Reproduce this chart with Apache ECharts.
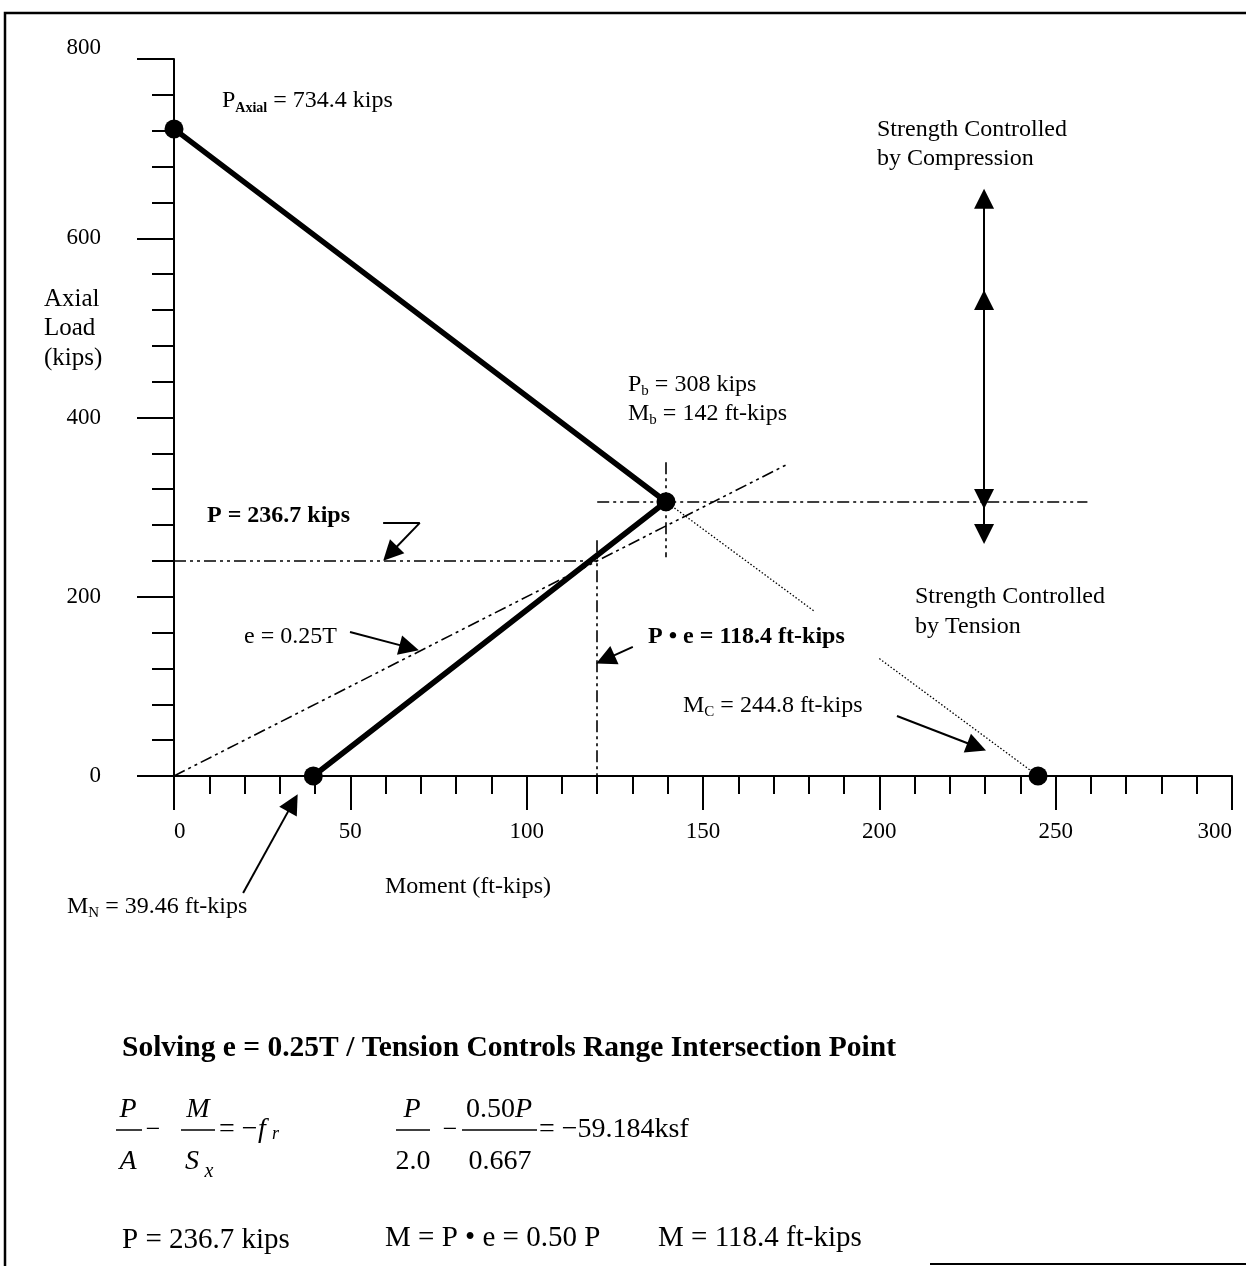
<!DOCTYPE html>
<html>
<head>
<meta charset="utf-8">
<script src="https://cdn.jsdelivr.net/npm/echarts@6.0.0/dist/echarts.min.js"></script>
<style>
html,body{margin:0;padding:0;background:#fff;}
#chart{width:1246px;height:1266px;}
</style>
</head>
<body>
<div id="chart"></div>
<script>
// ---- axis definitions ----
const xRange = [0, 300];
const xStep = 50;
const yRange = [0, 800];
const yStep = 200;

// ---- interaction curve (Moment, Axial load) ----
const curveM = [0, 139.5, 39.5];
const curveP = [722, 306, 0];

// ---- key points (dots) ----
const dotM = [0, 139.5, 39.5, 245];
const dotP = [722, 306, 0, 0];

// ---- dotted tension-controlled line segments ----
const dotFromM = [139.5, 200];
const dotFromP = [306, 131];
const dotToM = [181.5, 245];
const dotToP = [184, 0];

// ---- dash-dot construction lines ----
const ddFromM = [0, 0, 120, 120, 139.5];
const ddFromP = [0, 240, 263, 306, 350];
const ddToM = [174, 120, 120, 259, 139.5];
const ddToP = [348, 240, 0, 306, 244];

// ---- annotation arrows (start -> head) ----
const arFromM = [49.9, 130.1, 205, 19.6, 69.7, 229.7, 229.7, 229.7, 229.7];
const arFromP = [160.7, 144, 67, -130.6, 282.4, 531, 309, 531, 309];
const arToM = [66.7, 122.3, 227.6, 33.7, 61.3, 229.7, 229.7, 229.7, 229.7];
const arToP = [143.2, 130.2, 32.6, -30, 248.3, 644, 531, 309, 270];

// ---- leader stub without head ----
const stubFromM = [59.3];
const stubFromP = [282.4];
const stubToM = [69.7];
const stubToP = [282.4];

const F = 'Liberation Serif';
const BLACK = '#000';

function pairs(ms, ps) { return ms.map((m, i) => [m, ps[i]]); }
function segs(fm, fp, tm, tp) { return fm.map((m, i) => ({ coords: [[m, fp[i]], [tm[i], tp[i]]] })); }

function txt(x, y, text, opts) {
  opts = opts || {};
  return {
    type: 'text', x: x, y: y, z: 50,
    style: Object.assign({
      text: text, fill: BLACK, fontFamily: F, fontSize: opts.size || 24,
      fontWeight: opts.weight || 'normal', fontStyle: opts.italic ? 'italic' : 'normal',
      align: opts.align || 'left', textAlign: opts.align || 'left',
      verticalAlign: 'middle', textVerticalAlign: 'middle'
    }, opts.rich ? { rich: opts.rich } : {})
  };
}
function sub(size, subSize, weight) {
  return {
    m: { fontSize: size, fontFamily: F, lineHeight: size + 4, fontWeight: weight || 'normal', fill: BLACK },
    s: { fontSize: subSize, fontFamily: F, lineHeight: subSize, verticalAlign: 'bottom', fontWeight: weight || 'normal', fill: BLACK },
    sb: { fontSize: subSize, fontFamily: F, lineHeight: subSize, verticalAlign: 'bottom', fontWeight: 'bold', fill: BLACK }
  };
}
function hline(x1, x2, y) {
  return { type: 'line', z: 50, shape: { x1: x1, y1: y, x2: x2, y2: y }, style: { stroke: BLACK, lineWidth: 1.5 } };
}

const chart = echarts.init(document.getElementById('chart'), null, { renderer: 'canvas' });

const option = {
  backgroundColor: '#fff',
  animation: false,
  grid: { left: 174, right: 14, top: 59, bottom: 490, containLabel: false, outerBoundsMode: 'none' },
  xAxis: {
    type: 'value', min: xRange[0], max: xRange[1], interval: xStep,
    axisLine: { show: true, onZero: true, lineStyle: { color: BLACK, width: 2 } },
    axisTick: { show: true, inside: false, length: 34, lineStyle: { color: BLACK, width: 2 } },
    minorTick: { show: true, splitNumber: 5, length: 18, lineStyle: { color: BLACK, width: 2 } },
    splitLine: { show: false }, minorSplitLine: { show: false },
    axisLabel: { color: BLACK, fontFamily: F, fontSize: 23, margin: 44, alignMinLabel: 'left', alignMaxLabel: 'right' }
  },
  yAxis: {
    type: 'value', min: yRange[0], max: yRange[1], interval: yStep,
    axisLine: { show: true, onZero: true, lineStyle: { color: BLACK, width: 2 } },
    axisTick: { show: true, inside: false, length: 37, lineStyle: { color: BLACK, width: 2 } },
    minorTick: { show: true, splitNumber: 5, length: 22, lineStyle: { color: BLACK, width: 2 } },
    splitLine: { show: false }, minorSplitLine: { show: false },
    axisLabel: { color: BLACK, fontFamily: F, fontSize: 23, margin: 73, verticalAlignMaxLabel: 'bottom' }
  },
  series: [
    {
      type: 'lines', coordinateSystem: 'cartesian2d', clip: false, z: 3,
      lineStyle: { color: BLACK, width: 1.6, type: [12, 4, 3, 4, 3, 4], opacity: 1 },
      symbol: 'none',
      data: segs(ddFromM, ddFromP, ddToM, ddToP)
    },
    {
      type: 'lines', coordinateSystem: 'cartesian2d', clip: false, z: 3,
      lineStyle: { color: BLACK, width: 1.3, type: [1.5, 2], opacity: 1 },
      symbol: 'none',
      data: segs(dotFromM, dotFromP, dotToM, dotToP)
    },
    {
      type: 'line', data: pairs(curveM, curveP), symbol: 'none', z: 4,
      lineStyle: { color: BLACK, width: 5.5 }
    },
    {
      type: 'scatter', data: pairs(dotM, dotP), symbol: 'circle', symbolSize: 19, z: 5,
      itemStyle: { color: BLACK, opacity: 1 }
    },
    {
      type: 'lines', coordinateSystem: 'cartesian2d', clip: false, z: 6,
      lineStyle: { color: BLACK, width: 2, type: 'solid', opacity: 1 },
      symbol: ['none', 'triangle'], symbolSize: 20,
      data: segs(arFromM, arFromP, arToM, arToP)
    },
    {
      type: 'lines', coordinateSystem: 'cartesian2d', clip: false, z: 6,
      lineStyle: { color: BLACK, width: 2, type: 'solid', opacity: 1 },
      symbol: 'none',
      data: segs(stubFromM, stubFromP, stubToM, stubToP)
    }
  ],
  graphic: [
    // frame
    { type: 'polyline', z: 40, shape: { points: [[1246, 13], [5, 13], [5, 1266]] }, style: { stroke: BLACK, lineWidth: 2.5, fill: null } },
    { type: 'line', z: 40, shape: { x1: 930, y1: 1264, x2: 1246, y2: 1264 }, style: { stroke: BLACK, lineWidth: 2 } },

    // axis titles
    txt(44, 299, 'Axial', { size: 25 }), txt(44, 328, 'Load', { size: 25 }), txt(44, 358, '(kips)', { size: 25 }),
    txt(385, 887, 'Moment (ft-kips)'),

    // annotations
    txt(222, 101, '{m|P}{sb|Axial}{m| = 734.4 kips}', { rich: sub(24, 14) }),
    txt(877, 130, 'Strength Controlled'), txt(877, 159, 'by Compression'),
    txt(628, 385, '{m|P}{s|b}{m| = 308 kips}', { rich: sub(24, 15) }),
    txt(628, 414, '{m|M}{s|b}{m| = 142 ft-kips}', { rich: sub(24, 15) }),
    txt(207, 516, 'P = 236.7 kips', { weight: 'bold' }),
    txt(244, 637, 'e = 0.25T'),
    txt(648, 637, 'P \u2022 e = 118.4 ft-kips', { weight: 'bold' }),
    txt(915, 597, 'Strength Controlled'), txt(915, 627, 'by Tension'),
    txt(683, 706, '{m|M}{s|C}{m| = 244.8 ft-kips}', { rich: sub(24, 15) }),
    txt(67, 907, '{m|M}{s|N}{m| = 39.46 ft-kips}', { rich: sub(24, 15) }),

    // solution block
    txt(122, 1048, 'Solving e = 0.25T / Tension Controls Range Intersection Point', { weight: 'bold', size: 29.5 }),

    txt(128, 1110, 'P', { italic: true, size: 28, align: 'center' }),
    hline(116, 142, 1130),
    txt(128, 1162, 'A', { italic: true, size: 28, align: 'center' }),
    txt(153, 1130, '\u2212', { size: 26, align: 'center' }),
    txt(198, 1110, 'M', { italic: true, size: 28, align: 'center' }),
    hline(181, 215, 1130),
    txt(192, 1162, 'S', { italic: true, size: 28, align: 'center' }),
    txt(209, 1172, 'x', { italic: true, size: 20, align: 'center' }),
    txt(219, 1130, '= \u2212', { size: 28 }),
    txt(258, 1130, 'f', { italic: true, size: 28 }),
    txt(272, 1134, 'r', { italic: true, size: 18 }),

    txt(412, 1110, 'P', { italic: true, size: 28, align: 'center' }),
    hline(396, 430, 1130),
    txt(413, 1162, '2.0', { size: 28, align: 'center' }),
    txt(450, 1130, '\u2212', { size: 26, align: 'center' }),
    txt(499, 1110, '{m|0.50}{i|P}', { align: 'center', rich: { m: { fontSize: 28, fontFamily: F, fill: BLACK }, i: { fontSize: 28, fontFamily: F, fontStyle: 'italic', fill: BLACK } } }),
    hline(462, 537, 1130),
    txt(500, 1162, '0.667', { size: 28, align: 'center' }),
    txt(539, 1130, '= \u221259.184ksf', { size: 28 }),

    txt(122, 1240, 'P = 236.7 kips', { size: 29 }),
    txt(385, 1238, 'M = P \u2022 e = 0.50 P', { size: 29 }),
    txt(658, 1238, 'M = 118.4 ft-kips', { size: 29 })
  ]
};

chart.setOption(option);
</script>
</body>
</html>
